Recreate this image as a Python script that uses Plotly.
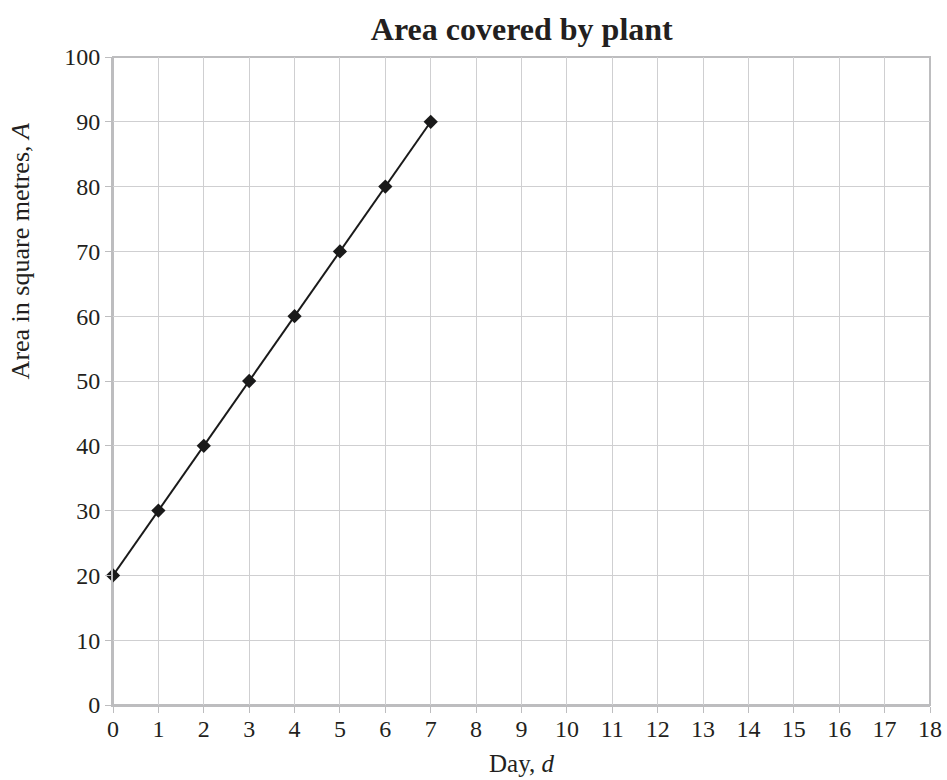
import plotly.graph_objects as go

days = [0, 1, 2, 3, 4, 5, 6, 7]
area = [20, 30, 40, 50, 60, 70, 80, 90]
x_ticks = list(range(0, 19))
y_ticks = list(range(0, 101, 10))

fig = go.Figure()
fig.add_trace(go.Scatter(
    x=days, y=area, mode="lines+markers",
    line=dict(color="#1a1a1a", width=2),
    marker=dict(symbol="diamond", size=11, color="#1a1a1a"),
    showlegend=False,
    cliponaxis=False,
))

font = "Liberation Serif, Times New Roman, serif"
fig.update_layout(
    width=947, height=780,
    margin=dict(l=113, r=17, t=57, b=75, autoexpand=False),
    paper_bgcolor="white", plot_bgcolor="white",
    font=dict(family=font, size=24, color="#231f20"),
    title=dict(text="<b>Area covered by plant</b>", x=0.551, xanchor="center",
               y=0.963, yanchor="middle", font=dict(size=32, family=font, color="#231f20")),
    annotations=[dict(text="Area in square metres, <i>A</i>", textangle=-90,
                      xref="paper", yref="paper", x=0, y=0.70,
                      xanchor="center", yanchor="middle", xshift=-93,
                      showarrow=False, font=dict(size=26, family=font, color="#231f20"))],
)
fig.update_xaxes(
    range=[0, 18], tickvals=x_ticks, ticktext=[str(t) for t in x_ticks],
    showgrid=True, gridcolor="#cfcfd1", gridwidth=1,
    showline=True, linecolor="#bdbdbf", linewidth=2,
    ticks="outside", ticklen=6, tickcolor="#bdbdbf",
    zeroline=False, automargin=False,
    ticklabelstandoff=-5,
    tickfont=dict(size=24),
    title=dict(text="Day, <i>d</i>", standoff=14, font=dict(size=25)),
)
fig.update_yaxes(
    range=[0, 100], tickvals=y_ticks,
    showgrid=True, gridcolor="#cfcfd1", gridwidth=1,
    showline=True, linecolor="#bdbdbf", linewidth=2,
    ticks="outside", ticklen=6, tickcolor="#bdbdbf",
    zeroline=False, automargin=False,
    tickfont=dict(size=24),
)
fig.update_layout(shapes=[dict(type="rect", xref="paper", yref="paper", x0=0, y0=0, x1=1, y1=1,
                               line=dict(color="#bdbdbf", width=2), layer="below")])

fig.write_html("out.html", config={"displayModeBar": False},
               post_script="document.body.style.margin='0';document.body.style.overflow='hidden';")
